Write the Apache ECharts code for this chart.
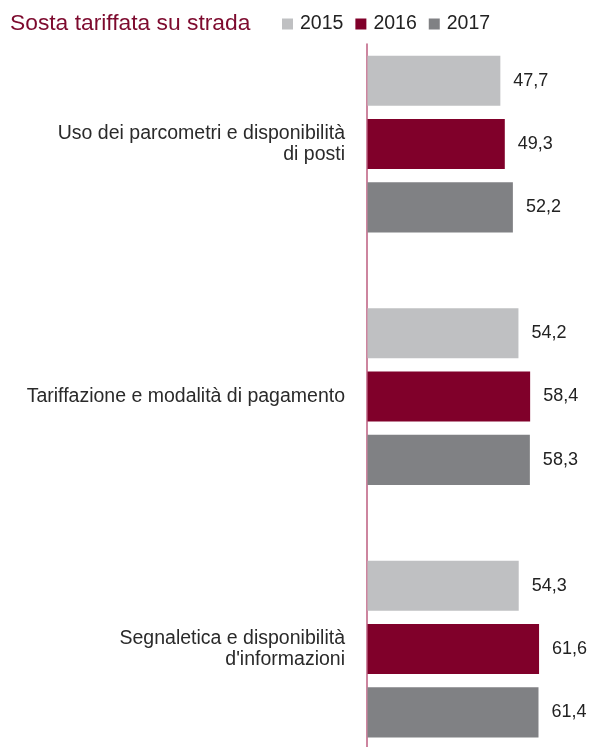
<!DOCTYPE html>
<html>
<head>
<meta charset="utf-8">
<script src="https://cdn.jsdelivr.net/npm/echarts@6/dist/echarts.min.js"></script>
<style>
  html, body { margin: 0; padding: 0; background: #fff; overflow: hidden; }
  #chart { width: 591px; height: 776px; }
</style>
</head>
<body>
<div id="chart"></div>
<script>
// Survey scores for on-street paid parking, by aspect and year
const categories = [
  'Uso dei parcometri e disponibilità\ndi posti',
  'Tariffazione e modalità di pagamento',
  'Segnaletica e disponibilità\nd\'informazioni'
];
const years = ['2015', '2016', '2017'];
const values2015 = [47.7, 54.2, 54.3];
const values2016 = [49.3, 58.4, 61.6];
const values2017 = [52.2, 58.3, 61.4];

const colors = ['#bfc0c2', '#80002a', '#808184'];
const FONT = '"Liberation Sans", Arial, sans-serif';

const chart = echarts.init(document.getElementById('chart'), null, { renderer: 'canvas' });

const seriesValues = [values2015, values2016, values2017];
const series = years.map((y, i) => ({
  name: y,
  type: 'bar',
  xAxisIndex: 0,
  yAxisIndex: 0,
  data: seriesValues[i],
  itemStyle: { color: colors[i] },
  barGap: '26%',
  barCategoryGap: '30%',
  label: {
    show: true,
    position: 'right',
    distance: 13,
    color: '#222',
    fontFamily: FONT,
    fontSize: 18,
    formatter: p => p.value.toFixed(1).replace('.', ',')
  }
}));

chart.setOption({
  animation: false,
  title: {
    text: 'Sosta tariffata su strada',
    left: 5,
    top: 7,
    textStyle: { color: '#7d0a2e', fontFamily: FONT, fontSize: 22.8, fontWeight: 'normal' }
  },
  legend: {
    data: years,
    left: 277,
    top: 9,
    icon: 'rect',
    itemWidth: 11,
    itemHeight: 11,
    itemGap: 12,
    textStyle: { color: '#222', fontFamily: FONT, fontSize: 19.5, padding: [0, 0, 0, 2] }
  },
  grid: [
    { left: 367.5, top: 17.75, width: 222.8, height: 757.5 },
    { left: 367, top: 44, width: 222.8, height: 731 }
  ],
  xAxis: [
    { type: 'value', gridIndex: 0, min: 0, max: 80, show: false },
    { type: 'value', gridIndex: 1, min: 0, max: 80, show: false }
  ],
  yAxis: [
    {
      type: 'category',
      gridIndex: 0,
      data: categories,
      inverse: true,
      axisLine: { show: false },
      axisTick: { show: false },
      axisLabel: {
        margin: 22.5,
        color: '#2a2a2a',
        fontFamily: FONT,
        fontSize: 19.5,
        lineHeight: 21,
        align: 'right'
      }
    },
    {
      type: 'category',
      gridIndex: 1,
      data: [''],
      axisLine: { show: true, lineStyle: { color: '#bd5c7f', width: 1.5 } },
      axisTick: { show: false },
      axisLabel: { show: false }
    }
  ],
  series: series
});
</script>
</body>
</html>
